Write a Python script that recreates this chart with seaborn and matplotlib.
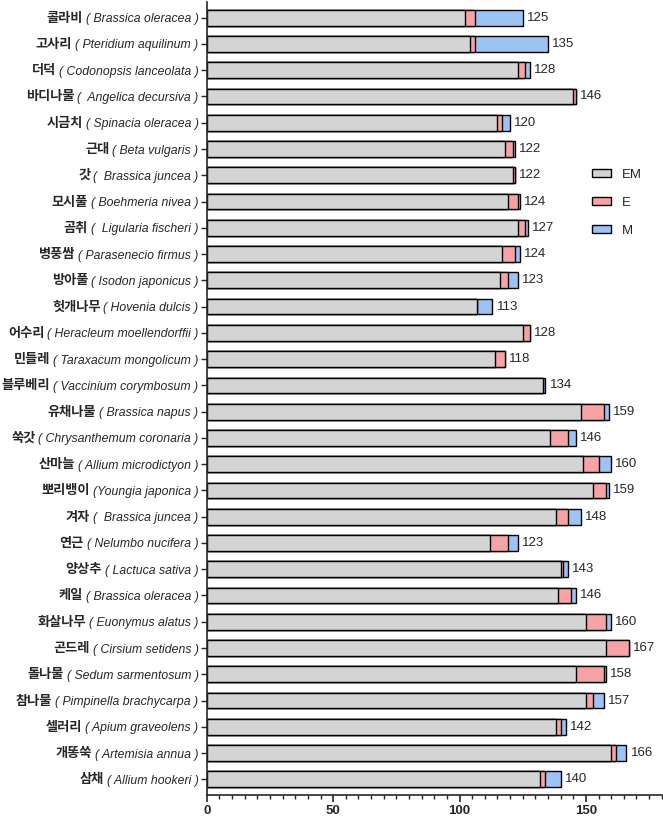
import numpy as np
import pandas as pd
import matplotlib
matplotlib.use('Agg')
import matplotlib.pyplot as plt
import matplotlib.transforms as mtransforms
from matplotlib.patches import Patch
from matplotlib.ticker import MultipleLocator
import seaborn as sns

# Data
korean = ['콜라비', '고사리', '더덕', '바디나물', '시금치', '근대', '갓', '모시풀', '곰취', '병풍쌈',
          '방아풀', '헛개나무', '어수리', '민들레', '블루베리', '유채나물', '쑥갓', '산마늘', '뽀리뱅이', '겨자',
          '연근', '양상추', '케일', '화살나무', '곤드레', '돌나물', '참나물', '셀러리', '개똥쑥', '삼채']
species = ['( Brassica oleracea )', '( Pteridium aquilinum )', '( Codonopsis lanceolata )',
           '(  Angelica decursiva )', '( Spinacia oleracea )', '( Beta vulgaris )', '(  Brassica juncea )',
           '( Boehmeria nivea )', '(  Ligularia fischeri )', '( Parasenecio firmus )', '( Isodon japonicus )',
           '( Hovenia dulcis )', '( Heracleum moellendorffii )', '( Taraxacum mongolicum )',
           '( Vaccinium corymbosum )', '( Brassica napus )', '( Chrysanthemum coronaria )',
           '( Allium microdictyon )', '(Youngia japonica )', '(  Brassica juncea )', '( Nelumbo nucifera )',
           '( Lactuca sativa )', '( Brassica oleracea )', '( Euonymus alatus )', '( Cirsium setidens )',
           '( Sedum sarmentosum )', '( Pimpinella brachycarpa )', '( Apium graveolens )',
           '( Artemisia annua )', '( Allium hookeri )']
em = [102, 104, 123, 145, 115, 118, 121, 119, 123, 117, 116, 107, 125, 114, 133,
      148, 136, 149, 153, 138, 112, 140, 139, 150, 158, 146, 150, 138, 160, 132]
e = [4, 2, 3, 1, 2, 3, 1, 4, 3, 5, 3, 0, 3, 4, 0,
     9, 7, 6, 5, 5, 7, 1, 5, 8, 9, 11, 3, 2, 2, 2]
m = [19, 29, 2, 0, 3, 1, 0, 1, 1, 2, 4, 6, 0, 0, 1,
     2, 3, 5, 1, 5, 4, 2, 2, 2, 0, 1, 4, 2, 4, 6]

df = pd.DataFrame({'name': korean, 'EM': em, 'E': e, 'M': m})
df['EM_E'] = df['EM'] + df['E']
df['total'] = df['EM_E'] + df['M']

colors = {'EM': '#d4d4d4', 'E': '#f7a3a5', 'M': '#9cc3f4'}

sns.set_style('ticks')
plt.rcParams['font.family'] = ['Liberation Sans', 'DejaVu Sans']

fig = plt.figure(figsize=(6.63, 8.18), dpi=100)
ax = fig.add_axes([0.312, 0.028, 0.686, 0.969])

# Stacked bars drawn as overlapping cumulative bars (M on bottom layer)
bar_kw = dict(orient='h', edgecolor='black', linewidth=1.0, width=0.6, saturation=1, ax=ax)
sns.barplot(data=df, y='name', x='total', color=colors['M'], **bar_kw)
sns.barplot(data=df, y='name', x='EM_E', color=colors['E'], **bar_kw)
sns.barplot(data=df, y='name', x='EM', color=colors['EM'], **bar_kw)

# Total labels at the end of each bar
for i, tot in enumerate(df['total']):
    ax.annotate(str(tot), (tot, i), xytext=(3, 0), textcoords='offset points',
                va='center', ha='left', fontsize=9.5)

# Axes styling
ax.set_xlim(0, 180)
ax.set_ylim(29.6, -0.58)
ax.xaxis.set_major_locator(MultipleLocator(50))
ax.xaxis.set_minor_locator(MultipleLocator(5))
ax.tick_params(axis='x', which='major', length=5, width=1.2, labelsize=9.5, pad=2)
ax.tick_params(axis='x', which='minor', length=3, width=1.0)
ax.tick_params(axis='y', length=4, width=1.0, pad=2)
for lab in ax.get_xticklabels():
    lab.set_fontweight('bold')
ax.set_xlabel('')
ax.set_ylabel('')
sns.despine(ax=ax)
for sp in ['left', 'bottom']:
    ax.spines[sp].set_linewidth(1.2)

# Y labels: italic species in tick label, bold Korean name placed to its left
ax.set_yticks(range(len(species)))
ax.set_yticklabels(species, fontstyle='italic', fontsize=8.8)

fig.canvas.draw()
renderer = fig.canvas.get_renderer()
trans = mtransforms.blended_transform_factory(ax.transAxes, ax.transData)
for i, (lab, kor) in enumerate(zip(ax.get_yticklabels(), korean)):
    bb = lab.get_window_extent(renderer)
    x_ax = ax.transAxes.inverted().transform((bb.x0 - 3, 0))[0]
    ax.text(x_ax, i, kor, transform=trans, ha='right', va='center', fontsize=9.5,
            fontweight='bold', family=['Noto Sans CJK KR', 'DejaVu Sans'], clip_on=False)

# Legend
handles = [Patch(facecolor=colors[k], edgecolor='black', linewidth=1.0) for k in ['EM', 'E', 'M']]
ax.legend(handles, ['EM', 'E', 'M'], loc='upper left', bbox_to_anchor=(0.82, 0.805),
          frameon=False, fontsize=9.5, handlelength=1.5, handleheight=0.6,
          labelspacing=1.2, handletextpad=0.8)

fig.savefig('out.png', dpi=100)
